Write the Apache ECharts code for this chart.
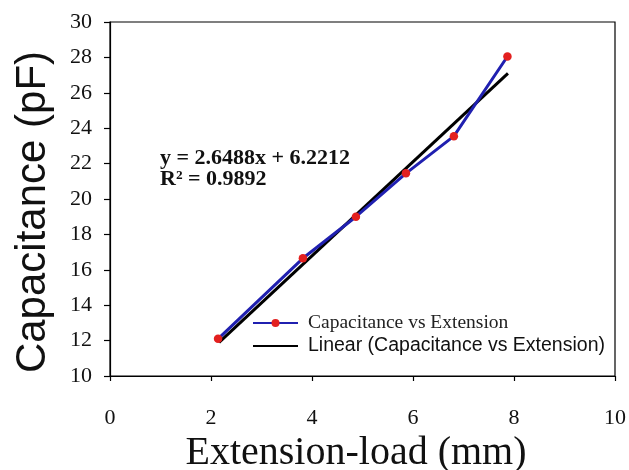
<!DOCTYPE html>
<html>
<head>
<meta charset="utf-8">
<script src="https://cdn.jsdelivr.net/npm/echarts@6/dist/echarts.min.js"></script>
<style>html,body{margin:0;padding:0;background:#fff;}#c{width:629px;height:470px;}</style>
</head>
<body>
<div id="c"></div>
<script>
// Measured data (Extension-load mm, Capacitance pF)
const extension = [2.14, 3.82, 4.87, 5.86, 6.81, 7.87];
const capacitance = [12.1, 16.65, 19.0, 21.45, 23.55, 28.05];
// Linear trendline endpoints as drawn
const trendX = [2.16, 7.88];
const trendY = [11.9, 27.1];
const xTicks = [0, 2, 4, 6, 8, 10];
const yTicks = [10, 12, 14, 16, 18, 20, 22, 24, 26, 28, 30];
const seriesName = 'Capacitance vs Extension';
const trendName = 'Linear (Capacitance vs Extension)';
const eqLines = ['y = 2.6488x + 6.2212', 'R\u00B2 = 0.9892'];

const chart = echarts.init(document.getElementById('c'), null, {renderer: 'canvas'});
const serif = '"Liberation Serif", "Times New Roman", serif';
const sans = '"Liberation Sans", Arial, sans-serif';

chart.setOption({
  animation: false,
  backgroundColor: '#fff',
  grid: {left: 110, right: 14, top: 22, bottom: 94, outerBoundsMode: 'none', containLabel: false, show: true, borderColor: '#000', borderWidth: 1.2, backgroundColor: 'transparent'},
  xAxis: {
    type: 'value', min: xTicks[0], max: xTicks[xTicks.length - 1], interval: 2,
    name: 'Extension-load (mm)', nameLocation: 'middle', nameGap: 52,
    nameTextStyle: {fontFamily: serif, fontSize: 40, color: '#111', padding: [0, 13, 0, 0]},
    axisLine: {lineStyle: {color: '#000', width: 1.2}},
    axisTick: {show: true, inside: false, length: 5, lineStyle: {color: '#000', width: 1.2}},
    axisLabel: {fontFamily: serif, fontSize: 22, color: '#111', margin: 31},
    splitLine: {show: false}
  },
  yAxis: {
    type: 'value', min: yTicks[0], max: yTicks[yTicks.length - 1], interval: 2,
    name: 'Capacitance (pF)', nameLocation: 'middle', nameGap: 56,
    nameTextStyle: {fontFamily: sans, fontSize: 42, color: '#111', padding: [0, 26, 0, 0]},
    axisLine: {lineStyle: {color: '#000', width: 1.2}},
    axisTick: {show: true, inside: false, length: 6, lineStyle: {color: '#000', width: 1.2}},
    axisLabel: {fontFamily: serif, fontSize: 22, color: '#111', margin: 18},
    splitLine: {show: false}
  },
  legend: {
    orient: 'vertical', left: 252, top: 313, padding: 0, itemGap: 3,
    itemWidth: 45, itemHeight: 10,
    data: [
      {name: seriesName, textStyle: {fontFamily: serif, fontSize: 19.5, color: '#222', padding: [0, 0, 0, 5]}},
      {name: trendName, itemStyle: {color: 'rgba(0,0,0,0)', borderWidth: 0}, textStyle: {fontFamily: sans, fontSize: 19.5, color: '#111', padding: [0, 0, 0, 5]}}
    ]
  },
  graphic: [{
    type: 'text', left: 160, top: 147,
    style: {text: eqLines.join('\n'), font: 'bold 22px ' + serif, fill: '#111', lineHeight: 21}
  }],
  series: [
    {
      name: seriesName, type: 'line', z: 3,
      data: extension.map((x, i) => [x, capacitance[i]]),
      symbol: 'circle', symbolSize: 8.5, showSymbol: true,
      lineStyle: {color: '#2020b0', width: 3},
      itemStyle: {color: '#e3201f'}
    },
    {
      name: trendName, type: 'line', z: 2,
      data: trendX.map((x, i) => [x, trendY[i]]),
      symbol: 'none',
      lineStyle: {color: '#000', width: 3},
      itemStyle: {color: '#000'}
    }
  ]
});
</script>
</body>
</html>
